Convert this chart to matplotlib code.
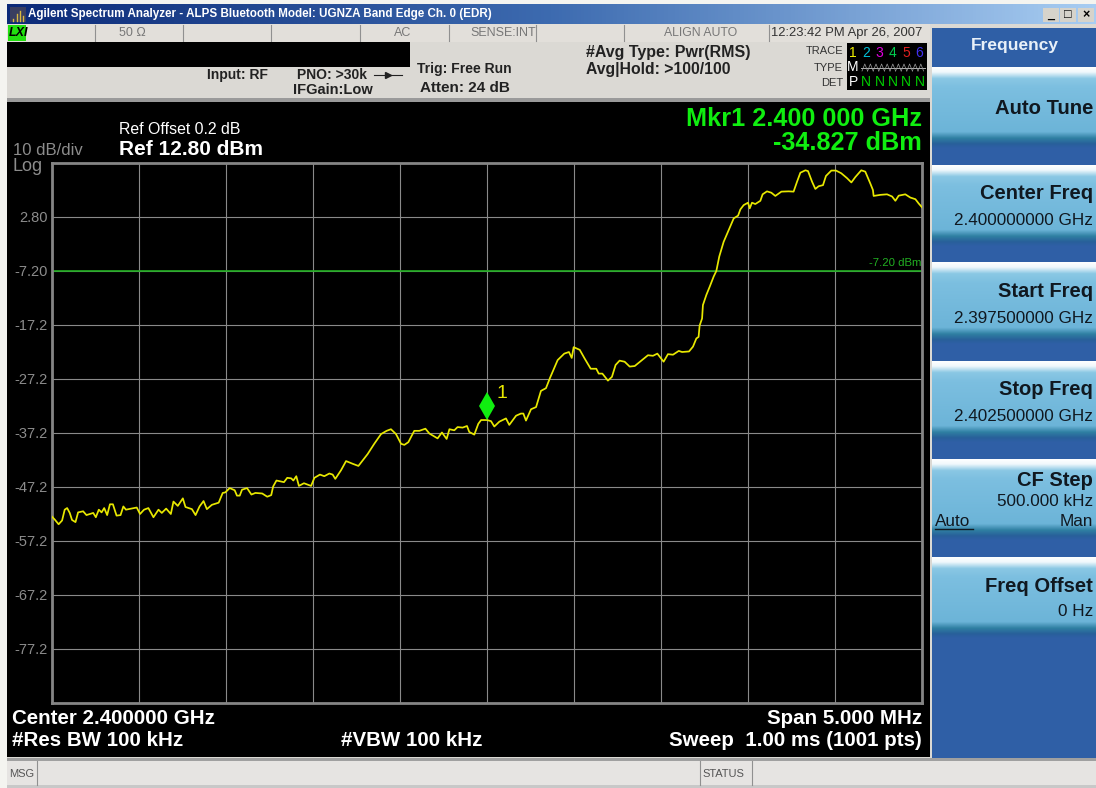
import numpy as np
import matplotlib
matplotlib.use("Agg")
import matplotlib.pyplot as plt
from matplotlib.patches import Rectangle
from matplotlib.transforms import ScaledTranslation

plt.rcParams['font.family'] = ['Liberation Sans', 'DejaVu Sans']

# trace, offset from centre in MHz / level in dBm
trace_mhz = [
    -2.5, -2.485, -2.462, -2.442, -2.427, -2.413, -2.398, -2.385, -2.365, -2.35,
    -2.321, -2.302, -2.263, -2.248, -2.231, -2.215, -2.2, -2.183, -2.167, -2.15,
    -2.129, -2.106, -2.09, -2.075, -2.013, -1.994, -1.971, -1.946, -1.917, -1.888,
    -1.869, -1.844, -1.817, -1.802, -1.777, -1.748, -1.733, -1.696, -1.675, -1.652,
    -1.629, -1.61, -1.581, -1.542, -1.519, -1.504, -1.479, -1.45, -1.437, -1.421,
    -1.408, -1.379, -1.354, -1.331, -1.292, -1.263, -1.24, -1.229, -1.21, -1.167,
    -1.148, -1.125, -1.113, -1.096, -1.081, -1.052,
    -1.011, -.992, -.96, -.935, -.906, -.887, -.872, -.839, -.81, -.772,
    -.739, -.715, -.686, -.648, -.609, -.577, -.552, -.523, -.494, -.475,
    -.452, -.418, -.389, -.354, -.331, -.284, -.259, -.232, -.216, -.188,
    -.169, -.14, -.115, -.102, -.073, -.05, -.034, 0, .023, .042,
    .071, .109, .128, .167, .195, .209, .224, .253, .282, .31,
    .339, .362, .406, .444,
    .471, .487, .498, .533, .561, .596, .628, .642, .663, .695,
    .718, .739, .762, .791, .82, .849, .887, .925, .954, .979,
    1.015, 1.04, 1.069, 1.102, 1.121, 1.161, 1.184, 1.203, 1.216, 1.222,
    1.236, 1.241, 1.261, 1.28, 1.303,
    1.318, 1.335, 1.36, 1.389, 1.418, 1.443, 1.456, 1.475, 1.5, 1.51,
    1.523, 1.542, 1.571, 1.584, 1.609, 1.634, 1.657, 1.692, 1.734, 1.762,
    1.782, 1.801, 1.83, 1.845, 1.868, 1.887, 1.906, 1.931, 1.948, 1.979,
    2.006, 2.036, 2.069, 2.094, 2.117, 2.151, 2.174, 2.203, 2.218, 2.222,
    2.261, 2.299, 2.328, 2.347, 2.366, 2.404, 2.433, 2.462, 2.481, 2.5,
]
trace_dbm = [
    -52.7, -53.2, -54.1, -53.4, -51.4, -51.1, -52.0, -53.3, -53.7, -51.9,
    -51.7, -52.4, -52.0, -52.8, -51.4, -51.9, -51.1, -52.4, -50.4, -50.4,
    -52.5, -52.4, -50.8, -51.4, -51.0, -52.2, -51.4, -51.1, -52.8, -51.4,
    -52.0, -51.2, -52.2, -49.9, -50.7, -49.3, -50.9, -51.3, -52.4, -50.8,
    -49.8, -51.3, -50.5, -50.1, -48.3, -48.2, -47.4, -47.8, -48.8, -48.8,
    -47.7, -47.4, -48.6, -48.3, -48.4, -49.0, -48.7, -47.1, -46.0, -46.3,
    -45.5, -45.6, -46.0, -45.2, -47.0, -46.5,
    -47.0, -45.5, -44.9, -45.2, -44.7, -44.9, -45.7, -44.1, -42.4, -42.9,
    -43.3, -42.3, -41.1, -39.2, -37.4, -36.8, -36.5, -37.4, -39.2, -39.4,
    -38.9, -36.8, -36.8, -36.4, -37.3, -38.2, -37.1, -38.3, -36.5, -36.7,
    -36.1, -36.2, -35.9, -37.0, -37.5, -35.5, -34.8, -34.8, -35.0, -36.0,
    -35.1, -34.5, -35.7, -34.0, -33.6, -33.6, -34.9, -32.8, -32.4, -29.4,
    -28.9, -27.0, -23.7, -22.5,
    -22.2, -23.3, -21.3, -21.8, -23.4, -25.3, -25.3, -26.2, -26.2, -27.5,
    -26.8, -24.6, -23.8, -24.0, -24.9, -24.8, -23.8, -22.8, -22.9, -22.5,
    -24.0, -22.6, -22.7, -22.0, -22.2, -22.1, -21.2, -19.7, -19.4, -17.3,
    -16.0, -13.5, -11.6, -10.1, -8.2,
    -7.2, -4.5, -1.8, 0.4, 2.55, 3.05, 4.2, 5.0, 5.45, 4.4,
    5.45, 5.2, 5.8, 7.0, 7.55, 7.3, 6.7, 7.5, 7.55, 7.5,
    9.35, 11.0, 11.45, 11.3, 9.35, 8.0, 8.5, 8.7, 10.4, 11.4,
    11.4, 10.9, 10.0, 9.2, 10.2, 11.45, 11.2, 9.0, 7.8, 6.7,
    6.9, 7.0, 6.6, 5.8, 6.75, 7.0, 6.4, 6.1, 5.3, 4.6,
]
ref_dbm = 12.8
db_per_div = 10
n_div = 10
span_mhz = 5.0
limit_dbm = -7.2
mkr_mhz = 0.0
mkr_dbm = -34.827
y_tick_labels = ['2.80', '-7.20', '-17.2', '-27.2', '-37.2', '-47.2', '-57.2', '-67.2', '-77.2']

W, H = 1096, 788
CHROME = '#dbd9d4'
PANEL_BLUE = '#2f5fa6'
DARK = '#101010'

fig = plt.figure(figsize=(W / 100, H / 100), dpi=100, facecolor='#f4f4f0')

# whole-window layer, in pixels of the screenshot
bg = fig.add_axes([0, 0, 1, 1])
bg.set_xlim(0, W)
bg.set_ylim(H, 0)
bg.axis('off')


def box(x0, y0, x1, y1, color, z=1):
    bg.add_patch(Rectangle((x0, y0), x1 - x0, y1 - y0, facecolor=color, edgecolor='none', zorder=z))


def label(x, y, s, size=10, color=DARK, weight='normal', ha='left', **kw):
    bg.text(x, y, s, fontsize=size, color=color, fontweight=weight, ha=ha, va='center', zorder=6, **kw)


def vgrad(x0, y0, x1, y1, stops, z=2):
    pos, cols = zip(*stops)
    rgb = np.array([matplotlib.colors.to_rgb(c) for c in cols])
    t = np.linspace(0, 1, 200)
    img = np.stack([np.interp(t, pos, rgb[:, i]) for i in range(3)], axis=1)[:, None, :]
    bg.imshow(img, extent=(x0, x1, y1, y0), aspect='auto', zorder=z, interpolation='bilinear')


box(7, 4, W, H, CHROME, 0)

# title bar
cols = np.array([matplotlib.colors.to_rgb(c) for c in ['#0c2a78', '#3d6bb0', '#a8cdf2']])
t = np.linspace(0, 1, 300)
bar = np.stack([np.interp(t, [0, .5, 1], cols[:, i]) for i in range(3)], axis=1)[None, :, :]
bg.imshow(bar, extent=(7, W, 24, 4), aspect='auto', zorder=2)
box(10, 7, 26, 22, '#3a3f60', 3)
for gx, gy in ((13, 19), (17, 14), (20, 11), (23, 16)):
    bg.plot([gx, gx], [gy, 21], color='#d8b840', lw=1.0, zorder=4)
label(28, 14, 'Agilent Spectrum Analyzer - ALPS Bluetooth Model: UGNZA Band Edge Ch. 0 (EDR)',
      8.35, 'white', 'bold')

# window buttons
for bx, s in ((1043, '_'), (1060, '□'), (1078, '×')):
    box(bx, 8, bx + 16, 22, '#d6d3cb', 3)
    label(bx + 8, 15, s, 9, 'black', 'bold', ha='center')

# status row
box(7, 24, 930, 42, '#e2dfda', 1)
for dx in (95, 183, 271, 360, 449, 536, 624, 769):
    bg.plot([dx, dx], [25, 41], color='#909090', lw=0.8, zorder=3)
box(8, 25, 26, 41, '#22e010', 3)
label(9, 33, 'LXI', 9, 'black', 'bold', style='italic')
label(132, 33, '50 Ω', 9, '#777777', ha='center')
label(403, 33, 'AC', 9, '#777777', ha='center')
label(470, 33, 'SENSE:INT', 9, '#777777')
label(664, 33, 'ALIGN AUTO', 8.8, '#777777')
label(771, 33, '12:23:42 PM Apr 26, 2007', 9.4, '#333333')

# settings strip
box(7, 42, 410, 67, 'black', 3)
label(207, 75, 'Input: RF', 10, '#222222', 'bold')
label(297, 75, 'PNO: >30k', 10, '#222222', 'bold')
bg.plot([374, 402], [75, 75], color='#222222', lw=0.8, zorder=4)
bg.plot([388], [75], marker='>', ms=4, color='#222222', zorder=4)
label(293, 90, 'IFGain:Low', 10.5, '#222222', 'bold')
label(417, 69, 'Trig: Free Run', 10, '#222222', 'bold')
label(420, 88, 'Atten: 24 dB', 11, '#222222', 'bold')
label(586, 52, '#Avg Type: Pwr(RMS)', 11.5, '#222222', 'bold')
label(586, 69, 'Avg|Hold: >100/100', 11.3, '#222222', 'bold')

# trace legend
label(843, 51, 'TRACE', 8, '#333333', ha='right')
label(843, 68, 'TYPE', 8, '#333333', ha='right')
label(843, 83, 'DET', 8, '#333333', ha='right')
box(847, 43, 927, 90, 'black', 3)
for i, (num, c) in enumerate(zip('123456', ['#f0f000', '#00c0d8', '#e000e0', '#00d050', '#e02020', '#4030f0'])):
    label(853 + i * 13.3, 53, num, 10, c, ha='center')
    label(853 + i * 13.3, 82, 'P' if i == 0 else 'N', 10, 'white' if i == 0 else '#00d000', ha='center')
label(853, 67, 'M', 10, 'white', ha='center')
bg.plot([861, 925], [68, 68], color='#b0b0b0', lw=0.7, zorder=4)
for k in range(11):
    bg.plot([862 + k * 5.6, 864.8 + k * 5.6, 867.6 + k * 5.6], [71, 64, 71], color='#a0a0a0', lw=0.5, zorder=4)

# screen
box(7, 98, 930, 102, '#9a9a9a', 1)
box(7, 102, 930, 757, 'black', 1)
label(119, 129, 'Ref Offset 0.2 dB', 11.4, 'white')
label(119, 149, 'Ref 12.80 dBm', 15, 'white', 'bold')
label(13, 150, '10 dB/div', 12, '#8c8c8c')
label(13, 166, 'Log', 13, '#8c8c8c')
label(922, 119, 'Mkr1 2.400 000 GHz', 18.2, '#10ee10', 'bold', ha='right')
label(922, 143, '-34.827 dBm', 18.2, '#10ee10', 'bold', ha='right')
label(12, 718, 'Center 2.400000 GHz', 14.8, 'white', 'bold')
label(12, 741, '#Res BW 100 kHz', 14.8, 'white', 'bold')
label(341, 741, '#VBW 100 kHz', 14.8, 'white', 'bold')
label(922, 718, 'Span 5.000 MHz', 14.8, 'white', 'bold', ha='right')
label(922, 741, 'Sweep  1.00 ms (1001 pts)', 14.8, 'white', 'bold', ha='right')

# soft keys
box(932, 28, W, 758, PANEL_BLUE, 1)
label(1015, 45, 'Frequency', 12.5, '#e8f0f8', 'bold', ha='center')
key_stops = [(0, '#ffffff'), (.06, '#f0f8fc'), (.14, '#8ac8e4'), (.25, '#7cbfe0'),
             (.8, '#6cb4d8'), (.88, '#2f7fa2'), (.95, '#28609a'), (1, PANEL_BLUE)]
for y0 in (67, 165, 263, 361, 459, 557):
    vgrad(932, y0, W, y0 + 81, key_stops)
label(1093, 108, 'Auto Tune', 14.6, '#101820', 'bold', ha='right')
label(1093, 193, 'Center Freq', 14.5, '#101820', 'bold', ha='right')
label(1093, 220, '2.400000000 GHz', 12.3, '#101820', ha='right')
label(1093, 291, 'Start Freq', 14.5, '#101820', 'bold', ha='right')
label(1093, 318, '2.397500000 GHz', 12.3, '#101820', ha='right')
label(1093, 389, 'Stop Freq', 14.5, '#101820', 'bold', ha='right')
label(1093, 416, '2.402500000 GHz', 12.3, '#101820', ha='right')
label(1093, 480, 'CF Step', 14.5, '#101820', 'bold', ha='right')
label(1093, 501, '500.000 kHz', 12.3, '#101820', ha='right')
label(935, 522, 'Auto', 12.3, '#101820')
bg.plot([935, 973], [529, 529], color='#101820', lw=1, zorder=6)
label(1093, 522, 'Man', 12.3, '#101820', ha='right')
label(1093, 586, 'Freq Offset', 14.5, '#101820', 'bold', ha='right')
label(1093, 612, '0 Hz', 12.3, '#101820', ha='right')

# message bar
box(7, 758, W, H, '#e6e4e2', 1)
box(7, 758, W, 761, '#a0a0a0', 2)
box(7, 785, W, H, '#c8c8c8', 2)
for dx in (37, 700, 752):
    bg.plot([dx, dx], [761, 785], color='#909090', lw=0.8, zorder=3)
label(9, 774, 'MSG', 8, '#555555')
label(702, 774, 'STATUS', 8, '#555555')

# the measurement itself
ax = fig.add_axes([52 / W, 1 - 703 / H, 870 / W, 540 / H], facecolor='black')
ax.set_xlim(-span_mhz / 2, span_mhz / 2)
ax.set_ylim(ref_dbm - n_div * db_per_div, ref_dbm)
ax.set_xticks(np.linspace(-span_mhz / 2, span_mhz / 2, n_div + 1))
ax.set_yticks([ref_dbm - db_per_div * (i + 1) for i in range(len(y_tick_labels))])
ax.set_yticklabels(y_tick_labels, fontsize=10.5, color='#8c8c8c')
ax.tick_params(axis='x', length=0, labelbottom=False)
ax.tick_params(axis='y', length=0, pad=3)
ax.grid(True, color='#8a8a8a', lw=0.8)
ax.set_axisbelow(True)
for sp in ax.spines.values():
    sp.set_color('#858585')
    sp.set_linewidth(2)

ax.axhline(limit_dbm, color='#22b022', lw=1.2, zorder=2)
ax.text(span_mhz / 2 - 0.005, limit_dbm + 0.5, '-7.20 dBm', color='#22b022', fontsize=8.2, ha='right', va='bottom')
ax.plot(trace_mhz, trace_dbm, color='#e8e800', lw=1.25, zorder=3)

lift = ScaledTranslation(0, 0.14, fig.dpi_scale_trans)
ax.plot([mkr_mhz], [mkr_dbm], marker='d', ms=14, mfc='#10ee10', mec='#10ee10',
        mew=0, transform=ax.transData + lift, zorder=4, ls='none')
ax.annotate('1', (mkr_mhz, mkr_dbm), xytext=(7, 19), textcoords='offset points', color='#e8e800', fontsize=14,
            ha='left', va='center')

fig.savefig('out.png', dpi=100, facecolor=fig.get_facecolor())
